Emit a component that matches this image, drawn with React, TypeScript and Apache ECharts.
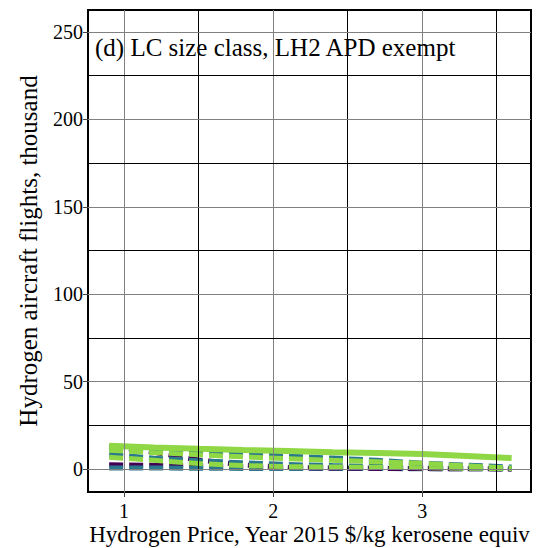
import React, { useEffect, useRef } from "react";
import * as echarts from "echarts";

const xValues = [0.9, 1.2, 1.5, 1.8, 2.1, 2.4, 2.7, 3.0, 3.3, 3.6];
const greenSolid = [13.3, 12.4, 11.6, 10.9, 10.3, 9.7, 9.2, 8.6, 7.5, 6.3];
const tealDashA = [11.8, 10.5, 9.5, 8.6, 7.4, 6.3, 5.0, 3.4, 2.2, 1.2];
const greenDashA = [10.8, 9.4, 8.2, 7.0, 5.9, 5.0, 4.2, 3.3, 1.8, 0.6];
const purpleDashA = [13.0, 9.6, 5.2, 2.4, 1.0, 0.6, 0.4, 0.3, 0.2, 0.1];
const tealDashB = [8.5, 6.2, 4.8, 3.6, 2.6, 2.0, 1.5, 1.0, 0.7, 0.4];
const greenDashB = [6.8, 5.0, 3.2, 2.0, 1.4, 1.2, 1.0, 0.8, 0.5, 0.3];
const purpleDashB = [2.5, 2.2, 1.8, 1.5, 1.3, 1.1, 0.9, 0.7, 0.5, 0.3];
const tealDashC = [0.6, 0.6, 0.5, 0.4, 0.4, 0.3, 0.3, 0.2, 0.2, 0.1];

const xTicks = [1, 2, 3];
const xMinor = [1.5, 2.5, 3.5];
const yTicks = [0, 50, 100, 150, 200, 250];
const yMinor = [25, 75, 125, 175, 225];

const PURPLE = "#440154";
const TEAL = "#2a788e";
const GREEN = "#8fd744";
const FONT = "'Liberation Serif', 'DejaVu Serif', serif";

const pair = (ys: number[]) => xValues.map((x, i) => [x, ys[i]]);

export default function App() {
  const ref = useRef<HTMLDivElement>(null);
  useEffect(() => {
    if (!ref.current) return;
    const chart = echarts.init(ref.current, null, { renderer: "svg" });
    const dashed = (name: string, ys: number[], color: string) => ({
      name,
      type: "line",
      data: pair(ys),
      symbol: "none",
      z: 3,
      lineStyle: { color, width: 5, type: [14, 6] },
    });
    chart.setOption({
      animation: false,
      grid: {
        left: 80,
        right: 12,
        top: 2,
        bottom: 56,
        show: true,
        borderColor: "#000",
        borderWidth: 2,
        outerBoundsMode: "none",
        containLabel: false,
      },
      xAxis: {
        type: "value",
        min: 0.758,
        max: 3.73,
        name: "Hydrogen Price, Year 2015 $/kg kerosene equiv",
        nameLocation: "middle",
        nameGap: 31,
        nameMoveOverlap: false,
        nameTextStyle: { fontFamily: FONT, fontSize: 23, color: "#000" },
        axisLine: { show: true, onZero: false, lineStyle: { color: "#000", width: 2 } },
        axisTick: { show: true, length: 5, customValues: xTicks, lineStyle: { color: "#444" } },
        axisLabel: { customValues: xTicks, fontFamily: FONT, fontSize: 20, color: "#000", margin: 9 },
        splitLine: { show: false },
      },
      yAxis: {
        type: "value",
        min: -13.1,
        max: 262.6,
        name: "Hydrogen aircraft flights, thousand",
        nameLocation: "middle",
        nameGap: 47,
        nameMoveOverlap: false,
        nameTextStyle: { fontFamily: FONT, fontSize: 25, color: "#000" },
        axisLine: { show: true, onZero: false, lineStyle: { color: "#000", width: 2 } },
        axisTick: { show: true, length: 5, customValues: yTicks, lineStyle: { color: "#444" } },
        axisLabel: { customValues: yTicks, fontFamily: FONT, fontSize: 20, color: "#000", margin: 5 },
        splitLine: { show: false },
      },
      graphic: [
        {
          type: "text",
          left: 87,
          top: 27,
          style: { text: "(d) LC size class, LH2 APD exempt", font: `25px ${FONT}`, fill: "#000" },
          z: 10,
        },
      ],
      series: [
        {
          name: "grid",
          type: "line",
          data: [],
          z: 1,
          silent: true,
          markLine: {
            silent: true,
            symbol: "none",
            label: { show: false },
            animation: false,
            data: [
              ...xTicks.map((v) => ({ xAxis: v, lineStyle: { color: "#808080", width: 1, type: "solid" } })),
              ...xMinor.map((v) => ({ xAxis: v, lineStyle: { color: "#000", width: 1, type: "solid" } })),
              ...yTicks.map((v) => ({ yAxis: v, lineStyle: { color: "#808080", width: 1, type: "solid" } })),
              ...yMinor.map((v) => ({ yAxis: v, lineStyle: { color: "#000", width: 1, type: "solid" } })),
            ],
          },
        },
        dashed("purpleB", purpleDashB, PURPLE),
        dashed("tealC", tealDashC, TEAL),
        dashed("purpleA", purpleDashA, PURPLE),
        dashed("tealB", tealDashB, TEAL),
        dashed("greenB", greenDashB, GREEN),
        dashed("tealA", tealDashA, TEAL),
        dashed("greenA", greenDashA, GREEN),
        {
          name: "greenSolid",
          type: "line",
          data: pair(greenSolid),
          symbol: "none",
          z: 3,
          lineStyle: { color: GREEN, width: 6, type: "solid" },
        },
      ],
    });
    return () => chart.dispose();
  }, []);
  return <div ref={ref} style={{ width: 535, height: 540 }} />;
}
